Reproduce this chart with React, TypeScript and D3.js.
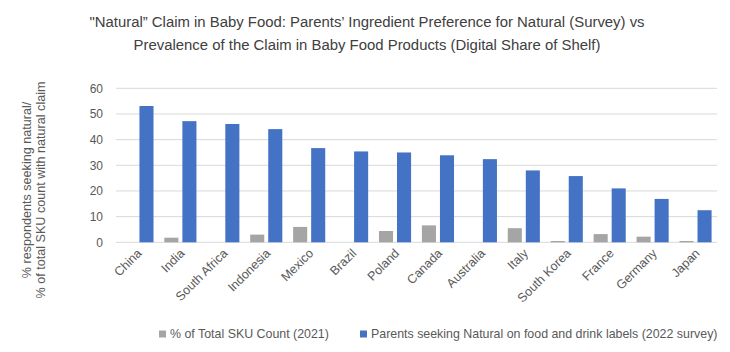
import React, { useEffect, useRef } from 'react';
import * as d3 from 'd3';

const countries = [
  'China', 'India', 'South Africa', 'Indonesia', 'Mexico', 'Brazil', 'Poland',
  'Canada', 'Australia', 'Italy', 'South Korea', 'France', 'Germany', 'Japan',
];
const skuShare = [0, 1.8, 0, 3.0, 6.0, 0, 4.4, 6.6, 0, 5.5, 0.5, 3.2, 2.2, 0.5];
const parentsNatural = [53.1, 47.2, 46.1, 44.1, 36.7, 35.4, 35.0, 33.9, 32.4, 28.0, 25.8, 21.0, 16.9, 12.5];
const yTicks = [0, 10, 20, 30, 40, 50, 60];
const seriesNames = ['% of Total SKU Count (2021)', 'Parents seeking Natural on food and drink labels (2022 survey)'];
const seriesColors = ['#a5a5a5', '#4472c4'];

const FONT = '"Liberation Sans", Arial, sans-serif';

const App = () => {
  const svgRef = useRef<SVGSVGElement>(null);

  useEffect(() => {
    const svg = d3.select(svgRef.current);
    svg.selectAll('*').remove();

    const width = 730;
    const height = 352;
    const plot = { left: 116, right: 717, top: 88.3, bottom: 242.3 };

    const x = d3.scaleBand().domain(countries).range([plot.left, plot.right]).padding(0);
    const inner = d3
      .scaleBand()
      .domain(['sku', 'parents'])
      .range([0, x.bandwidth()])
      .paddingInner(0.22)
      .paddingOuter(0.3);
    const y = d3.scaleLinear().domain([0, 60]).range([plot.bottom, plot.top]);

    svg.append('rect').attr('width', width).attr('height', height).attr('fill', '#fff');

    // Title
    const title = svg
      .append('text')
      .attr('text-anchor', 'middle')
      .style('font-family', FONT)
      .style('font-size', '14.9px')
      .attr('fill', '#404040');
    title.append('tspan').attr('x', 367).attr('y', 27).text('"Natural\u201d Claim in Baby Food: Parents\u2019 Ingredient Preference for Natural (Survey) vs');
    title.append('tspan').attr('x', 367).attr('y', 50).text('Prevalence of the Claim in Baby Food Products (Digital Share of Shelf)');

    // Gridlines
    svg
      .append('g')
      .selectAll('line')
      .data(yTicks)
      .enter()
      .append('line')
      .attr('x1', plot.left)
      .attr('x2', plot.right)
      .attr('y1', (d) => y(d))
      .attr('y2', (d) => y(d))
      .attr('stroke', '#d9d9d9')
      .attr('stroke-width', 1);

    // Y tick labels
    svg
      .append('g')
      .selectAll('text')
      .data(yTicks)
      .enter()
      .append('text')
      .attr('x', 103)
      .attr('y', (d) => y(d))
      .attr('dy', '0.35em')
      .attr('text-anchor', 'end')
      .style('font-family', FONT)
      .style('font-size', '12px')
      .attr('fill', '#595959')
      .text((d) => d);

    // Bars
    const rows = countries.map((c, i) => ({ c, sku: skuShare[i], parents: parentsNatural[i] }));
    const groups = svg
      .append('g')
      .selectAll('g')
      .data(rows)
      .enter()
      .append('g')
      .attr('transform', (d) => `translate(${x(d.c)},0)`);

    groups
      .selectAll('rect')
      .data((d) => [
        { key: 'sku', v: d.sku, color: seriesColors[0] },
        { key: 'parents', v: d.parents, color: seriesColors[1] },
      ])
      .enter()
      .append('rect')
      .attr('x', (d) => inner(d.key) as number)
      .attr('width', inner.bandwidth())
      .attr('y', (d) => y(d.v))
      .attr('height', (d) => y(0) - y(d.v))
      .attr('fill', (d) => d.color);

    // X labels
    svg
      .append('g')
      .selectAll('text')
      .data(countries)
      .enter()
      .append('text')
      .attr('text-anchor', 'end')
      .attr('transform', (d) => `translate(${(x(d) as number) + x.bandwidth() / 2 + 5},254) rotate(-45)`)
      .style('font-family', FONT)
      .style('font-size', '12.5px')
      .attr('fill', '#595959')
      .text((d) => d);

    // Y axis title
    const yt = svg
      .append('text')
      .attr('transform', 'translate(0,190) rotate(-90)')
      .attr('text-anchor', 'middle')
      .style('font-family', FONT)
      .style('font-size', '12.6px')
      .attr('fill', '#595959');
    yt.append('tspan').attr('x', 0).attr('y', 31).text('% respondents seeking natural/');
    yt.append('tspan').attr('x', 0).attr('y', 45).text('% of total SKU count with natural claim');

    // Legend
    const legendX = [159, 360];
    const legend = svg
      .append('g')
      .selectAll('g')
      .data(seriesNames)
      .enter()
      .append('g')
      .attr('transform', (d, i) => `translate(${legendX[i]},334)`);
    legend
      .append('rect')
      .attr('x', 0)
      .attr('y', -3.5)
      .attr('width', 7)
      .attr('height', 7)
      .attr('fill', (d, i) => seriesColors[i]);
    legend
      .append('text')
      .attr('x', 11)
      .attr('y', 0)
      .attr('dy', '0.35em')
      .style('font-family', FONT)
      .style('font-size', '12.4px')
      .attr('fill', '#595959')
      .text((d) => d);
  }, []);

  return (
    <svg
      ref={svgRef}
      width={730}
      height={352}
      style={{ position: 'absolute', left: 0, top: 0, display: 'block' }}
    ></svg>
  );
};

export default App;
